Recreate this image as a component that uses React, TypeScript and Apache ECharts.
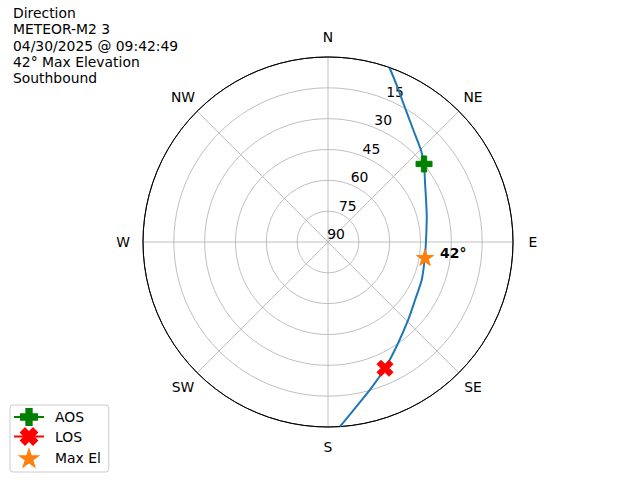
import React, { useEffect, useRef } from "react";
import * as echarts from "echarts";

const titleLines = ["Direction", "METEOR-M2 3", "04/30/2025 @ 09:42:49", "42° Max Elevation", "Southbound"];
const directionNames = ["N", "NE", "E", "SE", "S", "SW", "W", "NW"];
const directionAz = [0, 45, 90, 135, 180, 225, 270, 315];
const rLabelValues = [15, 30, 45, 60, 75, 90];
const rLabelAngle = 22.5;

const trackAz = [19.4, 23.6, 28.5, 37.3, 45.3, 50.9, 58.8, 66.8, 75.6, 88.8, 98.7, 112.1, 123.7, 134.2, 146.1, 155.7, 164.2, 170.8, 176.3];
const trackEl = [0, 6.6, 13.2, 21.5, 26.4, 29.8, 34.8, 38.1, 40.4, 42.3, 42.3, 40.8, 39.1, 35.6, 29.6, 22.6, 15.2, 8.0, 0];

const aosPoint = { az: 50.9, el: 29.8 };
const losPoint = { az: 155.7, el: 22.6 };
const maxPoint = { az: 99, el: 42.2, label: "42°" };

const FONT = "DejaVu Sans";
const PLUS = "path://M4,0H8V4H12V8H8V12H4V8H0V4H4Z";
const XSYM = "path://M1,0L2,1L3,0L4,1L3,2L4,3L3,4L2,3L1,4L0,3L1,2L0,1Z";
const STAR_D = "M100,0L77.55,69.1L4.89,69.1L63.67,111.8L41.22,180.9L100,138.2L158.78,180.9L136.33,111.8L195.11,69.1L122.45,69.1Z";
const STAR = "path://" + STAR_D;
const STAR_LEGEND = "path://" + STAR_D + "M-15,-25M215,205";
const LABEL_PAD = 20;

export default function App() {
  const ref = useRef<HTMLDivElement>(null);
  useEffect(() => {
    if (!ref.current) return;
    const chart = echarts.init(ref.current, undefined, { renderer: "svg" });
    const track = trackAz.map((a, i) => [trackEl[i], a]);
    const dirData = directionAz.map((a, i) => {
      const rad = (a * Math.PI) / 180;
      return {
        value: [0, a],
        name: directionNames[i],
        label: { offset: [LABEL_PAD * Math.sin(rad), -LABEL_PAD * Math.cos(rad)] },
      };
    });
    chart.setOption({
      animation: false,
      textStyle: { fontFamily: FONT },
      title: {
        text: titleLines.join("\n"),
        left: 13,
        top: 5,
        padding: 0,
        textStyle: { fontFamily: FONT, fontSize: 13.9, fontWeight: "normal", color: "#000", lineHeight: 16.2 },
      },
      legend: {
        orient: "vertical",
        left: 10,
        bottom: 8,
        itemWidth: 30,
        itemHeight: 20,
        itemGap: 1.5,
        padding: [3, 8, 3, 3],
        borderColor: "#cccccc",
        borderWidth: 1,
        borderRadius: 3,
        symbolKeepAspect: true,
        textStyle: { fontFamily: FONT, fontSize: 13.9, color: "#000", padding: [0, 0, 0, 6] },
        data: [{ name: "AOS" }, { name: "LOS" }, { name: "Max El", icon: STAR_LEGEND }],
      },
      polar: { center: [328, 242], radius: 185 },
      angleAxis: {
        type: "value",
        min: 0,
        max: 360,
        interval: 45,
        startAngle: 90,
        clockwise: true,
        axisLine: { show: true, lineStyle: { color: "#000", width: 1 } },
        axisTick: { show: false },
        axisLabel: { show: false },
        splitLine: { show: true, lineStyle: { color: "#b0b0b0", width: 0.8 } },
      },
      radiusAxis: {
        type: "value",
        min: 0,
        max: 90,
        interval: 15,
        inverse: true,
        axisLine: { show: false },
        axisTick: { show: false },
        axisLabel: { show: false },
        splitLine: {
          show: true,
          lineStyle: { color: ["#000000", "#b0b0b0", "#b0b0b0", "#b0b0b0", "#b0b0b0", "#b0b0b0", "#b0b0b0"], width: 0.8 },
        },
      },
      series: [
        {
          name: "directions",
          type: "scatter",
          coordinateSystem: "polar",
          silent: true,
          symbolSize: 1,
          itemStyle: { color: "transparent", opacity: 1 },
          data: dirData,
          label: {
            show: true,
            position: "inside",
            fontFamily: FONT,
            fontSize: 13.9,
            color: "#000",
            opacity: 1,
            formatter: (p: any) => p.name,
          },
          z: 1,
        },
        {
          name: "rlabels",
          type: "scatter",
          coordinateSystem: "polar",
          silent: true,
          symbolSize: 1,
          itemStyle: { color: "transparent", opacity: 1 },
          data: rLabelValues.map((v) => [v, rLabelAngle]),
          label: {
            show: true,
            position: "inside",
            offset: [8, -8],
            fontFamily: FONT,
            fontSize: 13.9,
            color: "#000",
            opacity: 1,
            formatter: (p: any) => String(p.value[0]),
          },
          z: 1,
        },
        {
          name: "track",
          type: "line",
          coordinateSystem: "polar",
          symbol: "none",
          smooth: 0.2,
          lineStyle: { color: "#1f77b4", width: 2 },
          data: track,
          z: 2,
        },
        {
          name: "AOS",
          type: "line",
          coordinateSystem: "polar",
          symbol: PLUS,
          symbolSize: 16,
          itemStyle: { color: "#008000", borderColor: "#008000", borderWidth: 1 },
          lineStyle: { color: "#008000", width: 2 },
          data: [[aosPoint.el, aosPoint.az]],
          z: 3,
        },
        {
          name: "LOS",
          type: "line",
          coordinateSystem: "polar",
          symbol: XSYM,
          symbolSize: 16,
          itemStyle: { color: "#ff0000", borderColor: "#ff0000", borderWidth: 1 },
          lineStyle: { color: "#ff0000", width: 2 },
          data: [[losPoint.el, losPoint.az]],
          z: 3,
        },
        {
          name: "Max El",
          type: "scatter",
          coordinateSystem: "polar",
          symbol: STAR,
          symbolSize: 17,
          symbolKeepAspect: true,
          itemStyle: { color: "#ff7f0e", borderColor: "#ff7f0e", borderWidth: 1, opacity: 1 },
          data: [[maxPoint.el, maxPoint.az]],
          label: {
            show: true,
            position: "right",
            distance: 6,
            offset: [0, -4],
            fontFamily: FONT,
            fontSize: 13.9,
            fontWeight: "bold",
            color: "#000",
            opacity: 1,
            formatter: () => maxPoint.label,
          },
          z: 3,
        },
      ],
    });
    return () => chart.dispose();
  }, []);
  return <div ref={ref} style={{ width: 640, height: 480, position: "absolute", left: 0, top: 0 }} />;
}
